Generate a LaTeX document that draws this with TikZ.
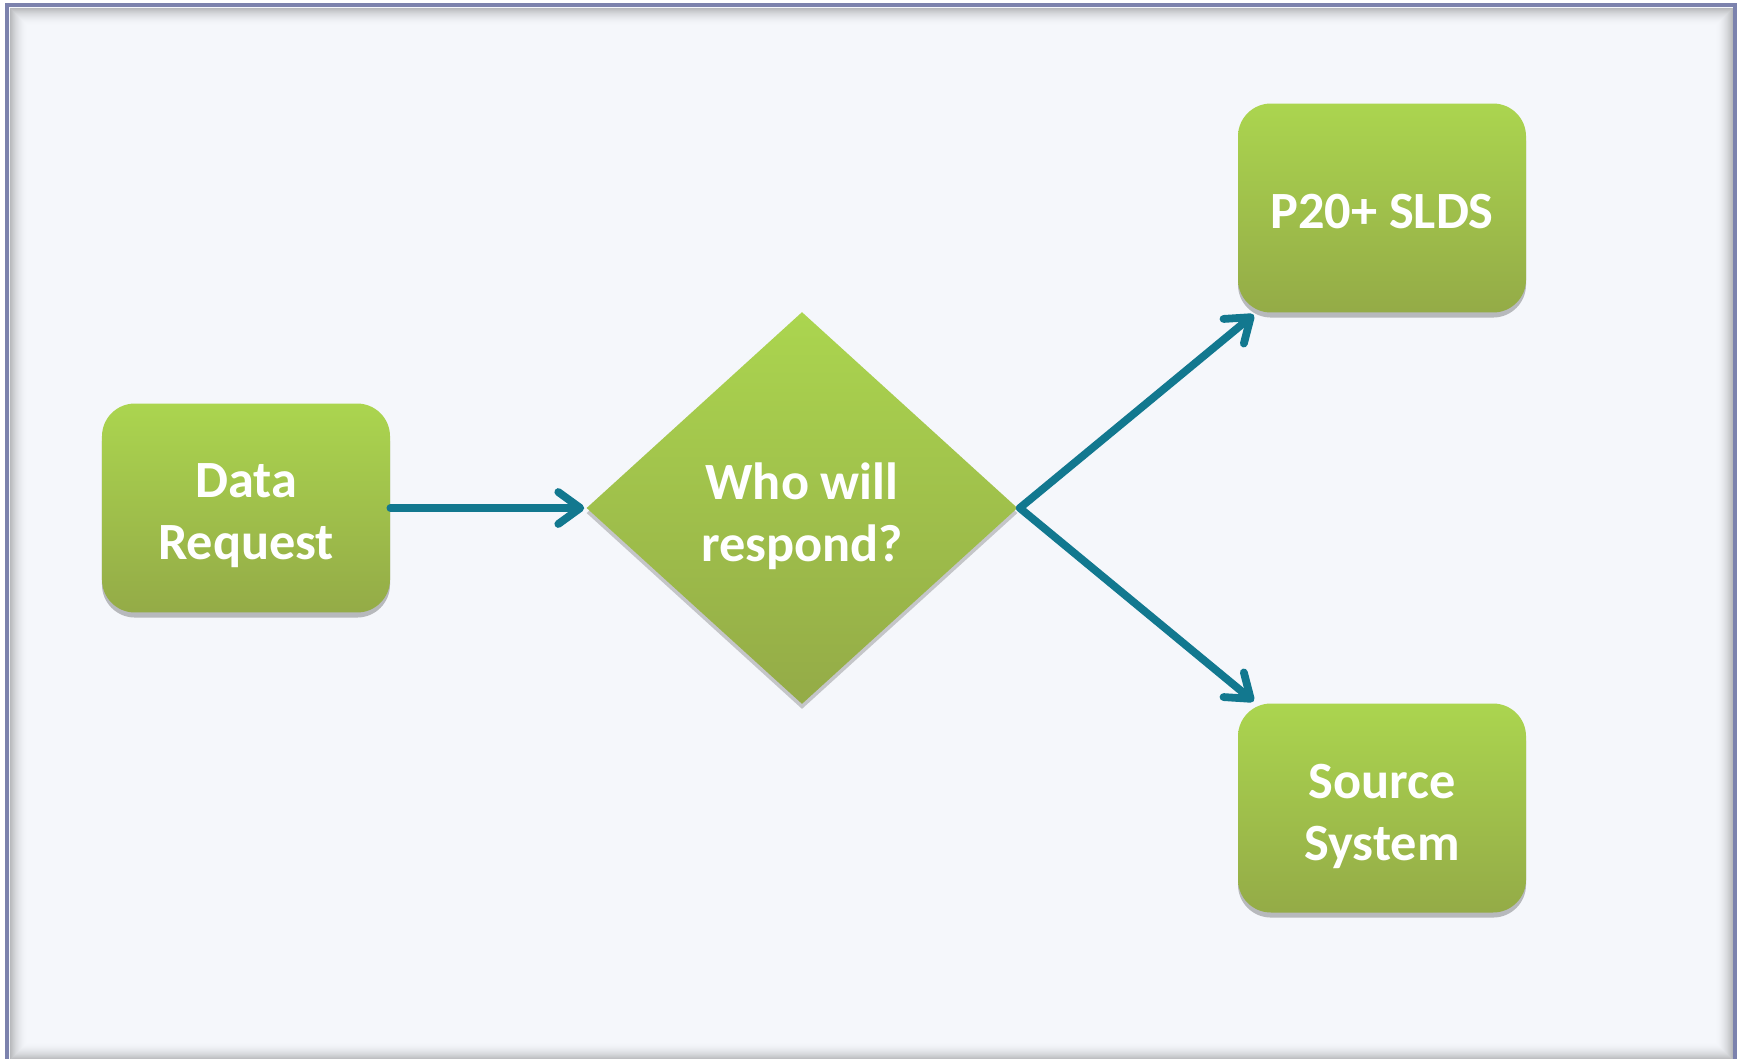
\documentclass[tikz,border=0pt]{standalone}
\usepackage{fontspec}
\setmainfont{Carlito}
\usetikzlibrary{shapes.geometric,arrows.meta,shadows}
\definecolor{framec}{HTML}{7C82AD}
\definecolor{bgc}{HTML}{F5F7FB}
\definecolor{gtop}{HTML}{ABD54F}
\definecolor{gbot}{HTML}{94AB47}
\definecolor{arrc}{HTML}{12788F}
\tikzset{
  boxtext/.style={text=white, align=center, inner sep=0pt, font=\bfseries\fontsize{28}{33.2}\selectfont},
  box/.style={rectangle, rounded corners=17.6pt, minimum width=154.1pt, minimum height=111.8pt,
    inner sep=0pt, top color=gtop, bottom color=gbot, draw=none,
    drop shadow={shadow xshift=0pt, shadow yshift=-2.7pt, opacity=0.25, fill=black}},
  dia/.style={diamond, minimum width=230.6pt, minimum height=209.7pt, inner sep=0pt,
    top color=gtop, bottom color=gbot, draw=none,
    drop shadow={shadow xshift=0pt, shadow yshift=-2.7pt, opacity=0.2, fill=black}},
  conn/.style={draw=arrc, line width=4.17pt, line cap=round, line join=round,
    -{Straight Barb[length=11.8pt, width=17.1pt, line cap=round, line join=round]}}
}
\begin{document}
\begin{tikzpicture}[x=0.535pt, y=-0.535pt]
\useasboundingbox (0,0) rectangle (1741,1058);
\fill[white] (0,0) rectangle (1741,1058);
% frame
\fill[bgc] (7,5) rectangle (1735,1062);
\foreach \i in {1,...,18} {
  \pgfmathsetmacro{\op}{0.28*(1-\i/19)^2}
  \draw[black, opacity=\op, line width=0.535pt] (9+\i,7+\i) rectangle (1733-\i,1060-\i);
}
\draw[framec, line width=2.35pt] (7,5) rectangle (1735,1062);
% shapes
\node[box] (dr) at (246,508) {};
\node[dia] (who) at (802,508) {};
\node[box] (p20) at (1382,208) {};
\node[box] (src) at (1382,808) {};
% texts
\node[boxtext] (drt) at ([yshift=-4.3pt]dr.center) {Data\\Request};
\node[boxtext] (whot) at ([yshift=-4.3pt]who.center) {Who will\\respond?};
\node[boxtext] (p20t) at ([yshift=-2.1pt]p20.center) {P20+ SLDS};
\node[boxtext] (srct) at ([yshift=-4.3pt]src.center) {Source\\System};
% connectors
\draw[conn] (dr.east) -- ([xshift=-1pt]who.west);
\draw[conn] ([xshift=1pt]who.east) -- ([shift={(8.6pt,-1pt)}]p20.south west);
\draw[conn] ([xshift=1pt]who.east) -- ([shift={(8.6pt,1pt)}]src.north west);
\end{tikzpicture}
\end{document}
